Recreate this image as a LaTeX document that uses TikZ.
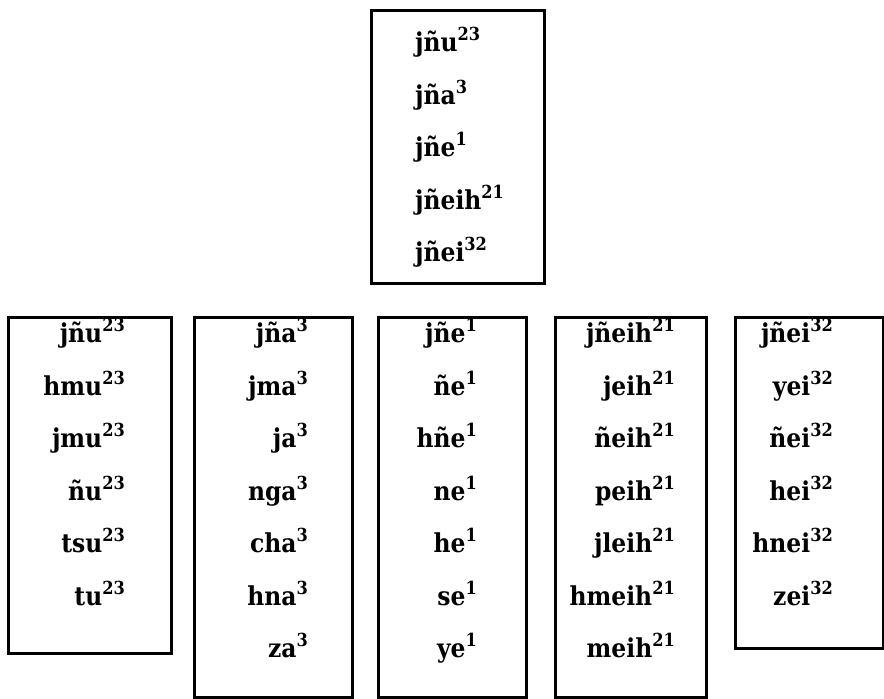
\documentclass[tikz,border=0pt]{standalone}
\usepackage{fontspec}
\setmainfont{DejaVu Serif}
\newfontfamily\wordfont{DejaVu Serif Condensed}
\newcommand\tone[1]{\raisebox{0.42em}{\fontsize{18}{18}\selectfont #1}}
\tikzset{
  box/.style={draw, line width=2.6pt, inner sep=0pt, anchor=north west},
  wd/.style={font=\wordfont\bfseries\fontsize{26}{30}\selectfont, inner sep=0pt},
  wr/.style={wd, anchor=mid east},
  wl/.style={wd, anchor=mid west}
}
\begin{document}
\begin{tikzpicture}[x=1pt,y=-1pt]
\useasboundingbox (0,0) rectangle (884,699);
% top box
\node[box, minimum width=173pt, minimum height=273pt] (top) at (370,9) {};
\foreach \t [count=\i from 0] in {jñu\tone{23},jña\tone{3},jñe\tone{1},jñeih\tone{21},jñei\tone{32}}
  \node[wl] (t\i) at (415,{49+52.5*\i}) {\t};
% bottom boxes
\node[box, minimum width=163pt, minimum height=336pt] (b1) at (7,316) {};
\node[box, minimum width=158pt, minimum height=380pt] (b2) at (193,316) {};
\node[box, minimum width=148pt, minimum height=380pt] (b3) at (377,316) {};
\node[box, minimum width=151pt, minimum height=380pt] (b4) at (554,316) {};
\node[box, minimum width=148pt, minimum height=331pt] (b5) at (734,316) {};
\foreach \t [count=\i from 0] in {jñu,hmu,jmu,ñu,tsu,tu}
  \node[wr] (a\i) at (125,{340+52.5*\i}) {\t\tone{23}};
\foreach \t [count=\i from 0] in {jña,jma,ja,nga,cha,hna,za}
  \node[wr] (c\i) at (308,{340+52.5*\i}) {\t\tone{3}};
\foreach \t [count=\i from 0] in {jñe,ñe,hñe,ne,he,se,ye}
  \node[wr] (d\i) at (477,{340+52.5*\i}) {\t\tone{1}};
\foreach \t [count=\i from 0] in {jñeih,jeih,ñeih,peih,jleih,hmeih,meih}
  \node[wr] (e\i) at (675,{340+52.5*\i}) {\t\tone{21}};
\foreach \t [count=\i from 0] in {jñei,yei,ñei,hei,hnei,zei}
  \node[wr] (f\i) at (833,{340+52.5*\i}) {\t\tone{32}};
\end{tikzpicture}
\end{document}
